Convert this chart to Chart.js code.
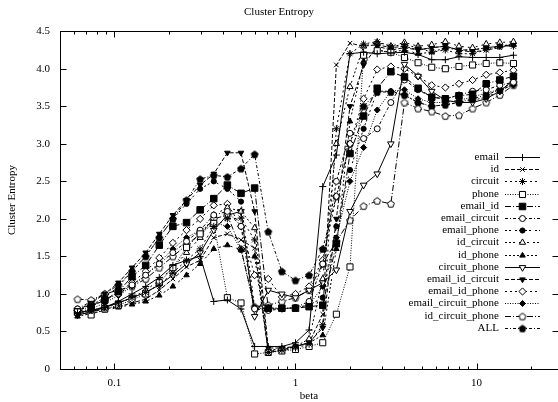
<!DOCTYPE html>
<html><head><meta charset="utf-8">
<script src="https://cdn.jsdelivr.net/npm/chart.js@4.4.1/dist/chart.umd.min.js"></script>
<style>html,body{margin:0;padding:0;background:#fff;overflow:hidden}</style>
</head><body>
<canvas id="c" width="558" height="402" style="display:block;width:558px;height:402px"></canvas>
<script>
// x values (beta)
const betas = [0.0625, 0.0743, 0.0884, 0.1051, 0.125, 0.1487, 0.1768, 0.2102, 0.25, 0.2973, 0.3536, 0.4204, 0.5, 0.5946, 0.7071, 0.8409, 1, 1.1892, 1.4142, 1.6818, 2, 2.3784, 2.8284, 3.3636, 4, 4.7568, 5.6569, 6.7272, 8, 9.5137, 11.3137, 13.4543, 16];

const email = [0.75,0.78,0.82,0.90,1.00,1.10,1.22,1.38,1.45,1.50,0.90,0.92,0.80,0.30,0.30,0.30,0.35,0.52,2.43,2.85,4.20,4.22,4.20,4.21,4.22,4.19,4.12,4.12,4.16,4.15,4.15,4.15,4.18];
const id = [0.72,0.76,0.80,0.83,0.88,0.93,1.05,1.20,1.36,1.45,1.75,1.80,1.72,1.61,0.22,0.25,0.30,0.35,0.73,4.05,4.34,4.30,4.32,4.28,4.30,4.25,4.28,4.30,4.25,4.22,4.25,4.28,4.32];
const circuit = [0.74,0.78,0.82,0.88,0.95,1.02,1.12,1.28,1.45,1.60,1.90,2.00,2.01,1.72,0.22,0.25,0.28,0.33,0.59,3.20,4.20,4.33,4.36,4.30,4.32,4.28,4.22,4.25,4.20,4.20,4.25,4.30,4.30];
const phone = [0.76,0.72,0.80,0.85,0.92,1.00,1.15,1.35,1.62,1.80,1.94,0.95,0.88,0.20,0.22,0.24,0.26,0.30,0.35,0.73,1.36,4.18,4.24,4.22,4.15,4.08,4.02,4.00,4.03,4.05,4.07,4.08,4.07];
const email_id = [0.76,0.83,0.92,1.03,1.23,1.38,1.65,1.90,1.95,2.12,2.27,2.45,2.34,2.41,0.81,0.81,0.81,0.83,0.85,1.67,2.87,3.37,3.74,3.96,3.89,3.74,3.62,3.60,3.64,3.66,3.80,3.85,3.90];
const email_circuit = [0.80,0.85,0.92,1.00,1.12,1.25,1.40,1.55,1.70,1.85,2.05,2.10,1.90,0.80,0.78,0.80,0.82,0.90,1.40,2.50,3.14,3.07,3.20,3.55,3.85,3.72,3.62,3.60,3.65,3.70,3.72,3.78,3.82];
const email_phone = [0.78,0.85,0.95,1.10,1.30,1.50,1.75,2.00,2.20,2.40,2.50,2.40,2.23,0.82,0.80,0.80,0.82,0.85,0.95,1.90,2.65,3.20,3.70,3.70,3.65,3.55,3.50,3.52,3.55,3.58,3.62,3.70,3.80];
const id_circuit = [0.75,0.78,0.83,0.88,0.95,1.05,1.18,1.35,1.55,1.75,2.05,2.15,2.10,1.88,0.25,0.27,0.30,0.40,1.20,3.00,3.76,4.30,4.35,4.30,4.35,4.30,4.32,4.36,4.30,4.28,4.33,4.35,4.36];
const id_phone = [0.70,0.74,0.78,0.82,0.86,0.90,0.98,1.10,1.25,1.40,1.60,1.65,1.59,1.50,0.24,0.26,0.30,0.35,0.45,1.60,3.30,4.10,4.25,4.22,4.25,4.20,4.22,4.28,4.25,4.25,4.28,4.30,4.33];
const circuit_phone = [0.72,0.76,0.82,0.88,0.95,1.02,1.12,1.25,1.40,1.55,1.85,2.05,2.10,0.70,1.05,1.00,0.95,1.05,1.15,1.32,2.10,2.45,2.60,3.00,4.06,3.90,3.70,3.58,3.55,3.55,3.60,3.70,3.85];
const email_id_circuit = [0.78,0.88,1.00,1.15,1.35,1.55,1.80,2.05,2.25,2.45,2.60,2.88,2.88,2.10,0.28,0.28,0.30,0.35,0.55,2.00,3.50,4.05,4.30,4.25,4.28,4.25,4.28,4.30,4.25,4.25,4.28,4.30,4.32];
const email_id_phone = [0.78,0.84,0.92,1.02,1.15,1.30,1.48,1.68,1.85,2.00,2.18,2.20,1.90,1.25,1.20,0.96,1.00,1.10,1.45,2.30,3.00,3.60,3.99,4.03,4.00,3.90,3.78,3.75,3.80,3.85,3.92,3.95,3.98];
const email_circuit_phone = [0.75,0.80,0.88,0.98,1.10,1.25,1.42,1.60,1.75,1.85,1.95,1.90,1.59,0.80,0.82,0.80,0.82,0.85,1.10,1.75,2.50,2.95,3.45,3.70,3.72,3.60,3.55,3.55,3.58,3.62,3.68,3.72,3.78];
const id_circuit_phone = [0.93,0.92,1.00,1.05,1.10,1.20,1.35,1.50,1.65,1.80,2.00,2.05,1.60,0.83,0.85,0.90,0.95,1.05,1.40,1.70,1.98,2.17,2.24,2.20,3.55,3.47,3.43,3.37,3.38,3.47,3.55,3.65,3.78];
const ALL = [0.80,0.90,1.00,1.12,1.30,1.50,1.75,2.00,2.25,2.53,2.58,2.56,2.67,2.86,1.83,1.30,1.18,1.25,1.60,2.30,3.00,3.50,3.69,3.69,3.65,3.55,3.50,3.52,3.55,3.60,3.65,3.72,3.82];

const seriesNames = ['email','id','circuit','phone','email_id','email_circuit','email_phone','id_circuit','id_phone','circuit_phone','email_id_circuit','email_id_phone','email_circuit_phone','id_circuit_phone','ALL'];
const seriesValues = [email,id,circuit,phone,email_id,email_circuit,email_phone,id_circuit,id_phone,circuit_phone,email_id_circuit,email_id_phone,email_circuit_phone,id_circuit_phone,ALL];

const xMajorTicks = [0.1, 1, 10];
const xMinorTicks = [0.06,0.07,0.08,0.09,0.2,0.3,0.4,0.5,0.6,0.7,0.8,0.9,2,3,4,5,6,7,8,9,20];

// ---------- styles ----------
function pentagon(filled){
  const c=document.createElement('canvas'); c.width=10; c.height=10;
  const g=c.getContext('2d'); g.beginPath();
  for(let k=0;k<5;k++){const a=-Math.PI/2+k*2*Math.PI/5; const px=5+3.6*Math.cos(a), py=5.3+3.6*Math.sin(a); k?g.lineTo(px,py):g.moveTo(px,py);}
  g.closePath(); g.fillStyle=filled?'#000':'#fff'; g.fill(); g.strokeStyle='#000'; g.lineWidth=1; g.stroke();
  return c;
}
const D1=[4,2], D2=[2,3], D3=[1,1.5], D4=[6,2,1,2], D5=[3,2,1,2], D6=[2,2,2,4], D7=[2,2,2,2,2,4], D8=[2,2,2,2,2,2,2,4];
const styles = [
  {dash:[], ps:'cross', r:3.5, fill:'#000'},
  {dash:D1, ps:'crossRot', r:3.2, fill:'#000'},
  {dash:D2, ps:'star', r:3.5, fill:'#000'},
  {dash:D3, ps:'rect', r:4.3, fill:'#fff'},
  {dash:D4, ps:'rect', r:4.6, fill:'#000'},
  {dash:D5, ps:'circle', r:3, fill:'#fff'},
  {dash:D6, ps:'circle', r:2.6, fill:'#000'},
  {dash:D7, ps:'triangle', r:3.6, fill:'#fff'},
  {dash:D8, ps:'triangle', r:3.2, fill:'#000'},
  {dash:[], ps:'triangle', r:3.8, fill:'#fff', rot:180},
  {dash:D1, ps:'triangle', r:3.2, fill:'#000', rot:180},
  {dash:D2, ps:'rectRot', r:3.6, fill:'#fff'},
  {dash:D3, ps:'rectRot', r:3.0, fill:'#000'},
  {dash:D4, ps:pentagon(false), r:4, fill:'#fff'},
  {dash:D5, ps:pentagon(true), r:4, fill:'#000'}
];

const datasets = seriesNames.map((name,k)=>({
  label:name,
  data: betas.map((b,i)=>({x:b,y:seriesValues[k][i]})),
  borderColor:'#000', borderWidth:1, borderDash:styles[k].dash,
  pointStyle:styles[k].ps, pointRadius:styles[k].r, pointRotation:styles[k].rot||0,
  pointBackgroundColor:styles[k].fill, pointBorderColor:'#000', pointBorderWidth:1,
  pointHoverRadius:styles[k].r, tension:0, fill:false
}));

const FONT = 'Liberation Serif';

const framePlugin = {
  id:'gpFrame',
  afterDatasetsDraw(chart){
    const {ctx, chartArea:a, scales:{x,y}} = chart;
    ctx.save(); ctx.strokeStyle='#000'; ctx.lineWidth=1; ctx.setLineDash([]);
    const L=(x1,y1,x2,y2)=>{ctx.beginPath();ctx.moveTo(x1,y1);ctx.lineTo(x2,y2);ctx.stroke();};
    const l=Math.round(a.left)+0.5, t=Math.round(a.top)+0.5, b=Math.round(a.bottom)+0.5, r=Math.round(a.right)+0.5;
    ctx.strokeRect(l,t,r-l,b-t);
    for(let v=0; v<=4.5001; v+=0.5){const py=Math.round(y.getPixelForValue(v))+0.5; L(l,py,l+6,py); L(r,py,r-6,py);}
    xMajorTicks.forEach(v=>{const px=Math.round(x.getPixelForValue(v))+0.5; L(px,b,px,b-6); L(px,t,px,t+6);});
    xMinorTicks.forEach(v=>{const px=Math.round(x.getPixelForValue(v))+0.5; L(px,b,px,b-3); L(px,t,px,t+3);});
    ctx.restore();
  }
};

const LEG_X = 499, LEG_Y0 = 157, LEG_DY = 12.2;
const legendPlugin = {
  id:'gpLegend',
  afterDraw(chart){
    const ctx=chart.ctx; ctx.save();
    ctx.font = '11px "'+FONT+'"'; ctx.textAlign='right'; ctx.textBaseline='middle';
    chart.data.datasets.forEach((ds,k)=>{
      const yy = Math.round(LEG_Y0 + k*LEG_DY)+0.5;
      ctx.fillStyle='#000'; ctx.fillText(ds.label, LEG_X, yy);
      ctx.strokeStyle='#000'; ctx.lineWidth=1; ctx.setLineDash(ds.borderDash||[]);
      ctx.beginPath(); ctx.moveTo(505,yy); ctx.lineTo(540,yy); ctx.stroke(); ctx.setLineDash([]);
      ctx.fillStyle=ds.pointBackgroundColor;
      if (Chart.helpers && Chart.helpers.drawPoint) {
        Chart.helpers.drawPoint(ctx,{pointStyle:ds.pointStyle, rotation:ds.pointRotation||0, radius:ds.pointRadius, borderWidth:1},522.5,yy);
      }
    });
    ctx.restore();
  }
};

new Chart(document.getElementById('c'), {
  type:'line',
  data:{datasets},
  options:{
    responsive:false, animation:false, devicePixelRatio:1,
    layout:{padding:{left:0,right:0,top:0,bottom:0}, autoPadding:false},
    plugins:{
      legend:{display:false}, tooltip:{enabled:false},
      title:{display:true, text:'Cluster Entropy', color:'#000', font:{family:FONT,size:11,weight:'normal'}, padding:{top:6,bottom:12}}
    },
    scales:{
      x:{type:'logarithmic', min:0.05, max:28.2,
        grid:{display:false, drawTicks:false}, border:{display:false},
        afterBuildTicks:(s)=>{s.ticks = xMajorTicks.map(v=>({value:v}));},
        ticks:{color:'#000', font:{family:FONT,size:11}, padding:8, maxRotation:0, autoSkip:false,
          callback:(v)=>String(v)},
        title:{display:true, text:'beta', color:'#000', font:{family:FONT,size:11,lineHeight:1}, padding:{top:0,bottom:0}},
        afterFit:(s)=>{s.height=33;}
      },
      y:{type:'linear', min:0, max:4.5,
        grid:{display:false, drawTicks:false}, border:{display:false},
        ticks:{color:'#000', font:{family:FONT,size:11}, padding:10, stepSize:0.5},
        title:{display:true, text:'Cluster Entropy', color:'#000', font:{family:FONT,size:11}, padding:{top:6,bottom:0}},
        afterFit:(s)=>{s.width=60;}
      }
    }
  },
  plugins:[framePlugin, legendPlugin]
});
</script>
</body></html>
